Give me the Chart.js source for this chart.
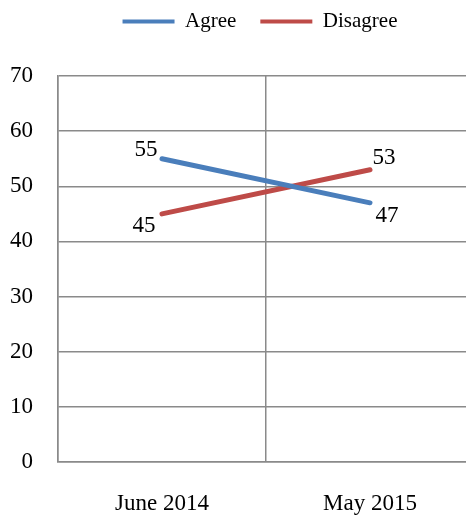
<!DOCTYPE html>
<html>
<head>
<meta charset="utf-8">
<script src="https://cdn.jsdelivr.net/npm/chart.js@4/dist/chart.umd.min.js"></script>
<style>
html,body{margin:0;padding:0;overflow:hidden;background:#fff;width:466px;height:515px;}
#wrap{width:474px;height:515px;}
</style>
</head>
<body>
<div id="wrap"><canvas id="c" width="474" height="515"></canvas></div>
<script>
const categories = ["June 2014", "May 2015"];
const agree = [55, 47];
const disagree = [45, 53];
const yTicks = [0, 10, 20, 30, 40, 50, 60, 70];

const FONT = "'Liberation Serif', 'Times New Roman', serif";

// label placement per point: [dx, dy] relative to point
const labelPlacement = {
  0: [[-16, -9], [17, 13]],
  1: [[-18, 12], [14, -12]]
};

const dataLabels = {
  id: 'dataLabels',
  afterDatasetsDraw(chart) {
    const ctx = chart.ctx;
    ctx.save();
    ctx.font = "23px " + FONT;
    ctx.fillStyle = '#000';
    ctx.textAlign = 'center';
    ctx.textBaseline = 'middle';
    chart.data.datasets.forEach((ds, di) => {
      const meta = chart.getDatasetMeta(di);
      meta.data.forEach((pt, i) => {
        const off = labelPlacement[di][i];
        ctx.fillText(String(ds.data[i]), pt.x + off[0], pt.y + off[1]);
      });
    });
    ctx.restore();
  }
};

const legendFix = {
  id: 'legendFix',
  beforeLayout(chart) {
    const l = chart.legend;
    if (l && !l._fixed) {
      const f = l.fit.bind(l);
      l.fit = function () { f(); this.height = 76; };
      l._fixed = true;
    }
  },
  afterLayout(chart) {
    const l = chart.legend;
    if (l) { l.left -= 6; l.right -= 6; l.top -= 13; l.bottom -= 13; }
  }
};

new Chart(document.getElementById('c'), {
  type: 'line',
  data: {
    labels: categories,
    datasets: [
      { label: 'Agree', data: agree, borderColor: '#4a7ebb', backgroundColor: '#4a7ebb', borderWidth: 5, pointRadius: 0, borderCapStyle: 'round' },
      { label: 'Disagree', data: disagree, borderColor: '#be4b48', backgroundColor: '#be4b48', borderWidth: 5, pointRadius: 0, borderCapStyle: 'round' }
    ]
  },
  options: {
    responsive: false,
    animation: false,
    layout: { padding: 0 },
    plugins: {
      tooltip: { enabled: false },
      legend: {
        position: 'top',
        fullSize: false,
        labels: {
          font: { family: FONT, size: 21 },
          color: '#000',
          boxWidth: 52,
          boxHeight: 4,
          padding: 24,
          generateLabels(chart) {
            return chart.data.datasets.map((ds, i) => ({
              text: ds.label, fillStyle: ds.borderColor, strokeStyle: ds.borderColor,
              lineWidth: 0, hidden: false, datasetIndex: i, fontColor: '#000'
            }));
          }
        }
      }
    },
    scales: {
      x: {
        offset: true,
        grid: { offset: true, color: '#8a8a8a', lineWidth: 1.5, drawTicks: false },
        border: { color: '#8a8a8a', width: 1.5 },
        ticks: { font: { family: FONT, size: 23 }, color: '#000', padding: 28 },
        afterFit(scale) { scale.height = 53; }
      },
      y: {
        min: 0, max: 70,
        afterBuildTicks(scale) { scale.ticks = yTicks.map(v => ({ value: v })); },
        grid: { color: '#8a8a8a', lineWidth: 1.5, drawTicks: false },
        border: { color: '#8a8a8a', width: 1.5 },
        ticks: { font: { family: FONT, size: 23 }, color: '#000', padding: 25 },
        afterFit(scale) { scale.width = 58; }
      }
    }
  },
  plugins: [legendFix, dataLabels]
});
</script>
</body>
</html>
